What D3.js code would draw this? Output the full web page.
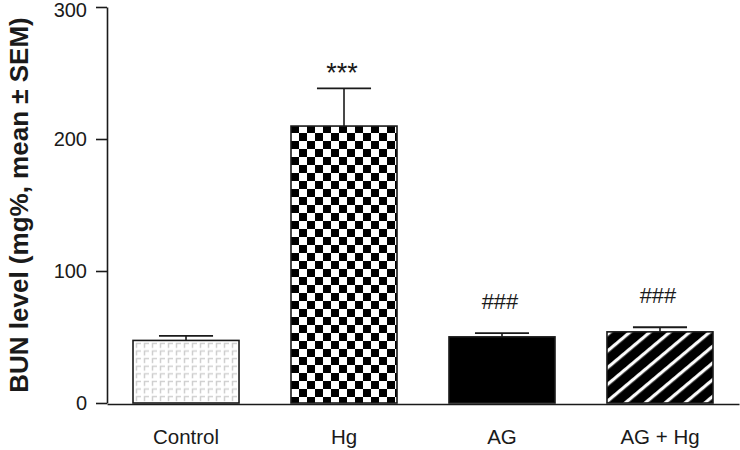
<!DOCTYPE html>
<html>
<head>
<meta charset="utf-8">
<script src="https://cdn.jsdelivr.net/npm/d3@7"></script>
<style>
  html, body { margin: 0; padding: 0; background: #fff; }
  svg { display: block; font-family: "Liberation Sans", Arial, sans-serif; }
</style>
</head>
<body>
<svg id="chart" width="740" height="450"></svg>
<script>
// ---- data ----
const categories = ["Control", "Hg", "AG", "AG + Hg"];
const means = [47.4, 209.8, 50.1, 53.9];
const sems = [3.5, 28.5, 2.8, 3.5];
const annotations = ["", "***", "###", "###"];
const yTicks = [0, 100, 200, 300];
const fills = ["url(#pBrick)", "url(#pChecker)", "#000", "url(#pStripe)"];

const svg = d3.select("#chart");
const ink = "#1a1a1a";

// ---- patterns ----
const defs = svg.append("defs");
const brick = defs.append("pattern").attr("id", "pBrick")
  .attr("patternUnits", "userSpaceOnUse").attr("width", 8).attr("height", 7.6)
  .attr("x", 135).attr("y", 342);
brick.append("rect").attr("width", 8).attr("height", 7.6).attr("fill", "#fff");
brick.append("path").attr("d", "M1.5,6 V1.5 H6").attr("fill", "none")
  .attr("stroke", "#cfcfcf").attr("stroke-width", 1.5);

const checker = defs.append("pattern").attr("id", "pChecker")
  .attr("patternUnits", "userSpaceOnUse").attr("width", 16).attr("height", 16)
  .attr("x", 291).attr("y", 125);
checker.append("rect").attr("width", 16).attr("height", 16).attr("fill", "#fff");
checker.append("rect").attr("width", 8).attr("height", 8).attr("fill", "#000");
checker.append("rect").attr("x", 8).attr("y", 8).attr("width", 8).attr("height", 8).attr("fill", "#000");

const stripe = defs.append("pattern").attr("id", "pStripe")
  .attr("patternUnits", "userSpaceOnUse").attr("width", 12.8).attr("height", 12.8)
  .attr("patternTransform", "rotate(-40)");
stripe.append("rect").attr("width", 12.8).attr("height", 12.8).attr("fill", "#000");
stripe.append("rect").attr("y", 5).attr("width", 12.8).attr("height", 3.2).attr("fill", "#fff");

// ---- scales ----
const y = d3.scaleLinear().domain([0, 300]).range([403, 7]);
const x = d3.scaleBand().domain(categories).range([107, 739])
  .paddingInner(0.329).paddingOuter(0.1646);

// ---- bars ----
const g = svg.append("g");
g.selectAll("rect.bar").data(categories).join("rect")
  .attr("class", "bar")
  .attr("x", d => x(d))
  .attr("y", (d, i) => y(means[i]))
  .attr("width", x.bandwidth())
  .attr("height", (d, i) => y(0) - y(means[i]))
  .attr("fill", (d, i) => fills[i])
  .attr("stroke", ink).attr("stroke-width", 1.6);

// ---- error bars (upper only) ----
const capW = x.bandwidth() * 0.51;
categories.forEach((c, i) => {
  const cx = x(c) + x.bandwidth() / 2;
  const top = y(means[i] + sems[i]);
  g.append("line").attr("x1", cx).attr("x2", cx)
    .attr("y1", y(means[i])).attr("y2", top)
    .attr("stroke", ink).attr("stroke-width", 1.6);
  g.append("line").attr("x1", cx - capW / 2).attr("x2", cx + capW / 2)
    .attr("y1", top).attr("y2", top)
    .attr("stroke", ink).attr("stroke-width", 1.8);
  if (annotations[i]) {
    const isStar = annotations[i].startsWith("*");
    g.append("text")
      .attr("x", cx - 2)
      .attr("y", top - (isStar ? 6 : 24))
      .attr("text-anchor", "middle")
      .attr("font-size", isStar ? 27 : 22)
      .attr("fill", ink)
      .text(annotations[i]);
  }
});

// ---- axes ----
const yAxis = svg.append("g").attr("transform", "translate(107,0)")
  .call(d3.axisLeft(y).tickValues(yTicks).tickSize(11).tickSizeOuter(0).tickPadding(9));
yAxis.select(".domain").attr("stroke", ink).attr("stroke-width", 1.6);
yAxis.selectAll(".tick line").attr("stroke", ink).attr("stroke-width", 1.6);
yAxis.selectAll(".tick text").attr("font-size", 20).attr("fill", ink)
  .attr("font-family", "Liberation Sans, Arial, sans-serif")
  .attr("y", d => d === 300 ? 3 : 0);

const xAxis = svg.append("g").attr("transform", "translate(0,404)")
  .call(d3.axisBottom(x).tickSize(0).tickSizeOuter(0).tickPadding(25));
xAxis.select(".domain").attr("stroke", ink).attr("stroke-width", 1.6);
xAxis.selectAll(".tick text").attr("font-size", 20.5).attr("fill", ink)
  .attr("font-family", "Liberation Sans, Arial, sans-serif");

// ---- y label ----
svg.append("text")
  .attr("transform", "translate(28,205) rotate(-90)")
  .attr("text-anchor", "middle")
  .attr("font-size", 26)
  .attr("font-weight", "bold")
  .attr("fill", ink)
  .text("BUN level (mg%, mean ± SEM)");
</script>
</body>
</html>
